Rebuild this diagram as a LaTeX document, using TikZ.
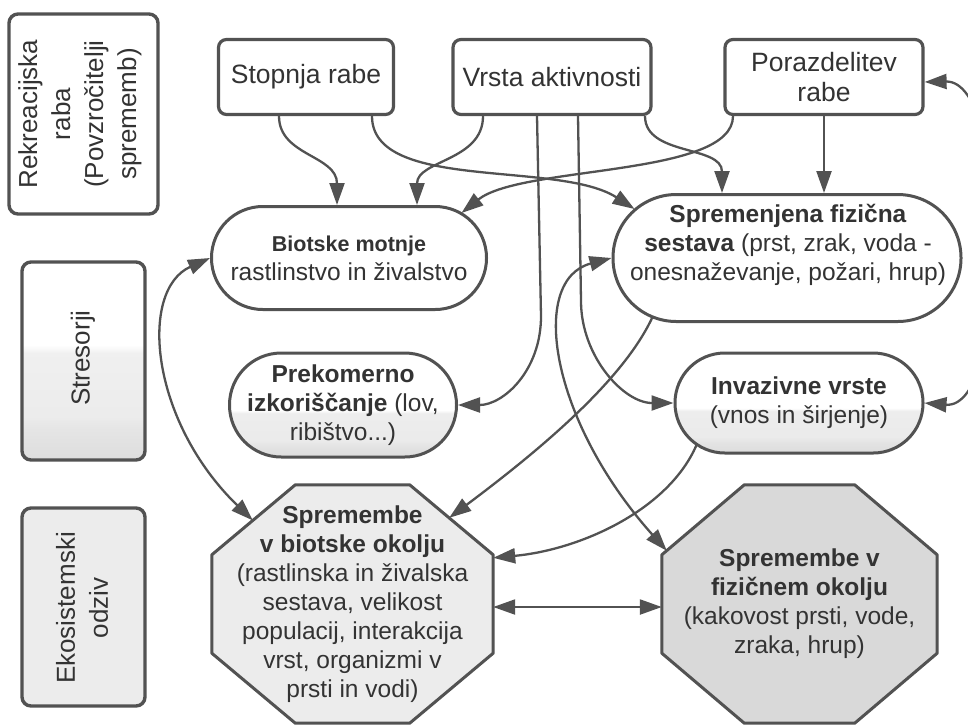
\documentclass[tikz,border=0pt]{standalone}
\usepackage{fontspec}
\setmainfont{Liberation Sans}
\usetikzlibrary{arrows.meta,calc}
\pgfdeclarelayer{bg}
\pgfsetlayers{bg,main}
\definecolor{linec}{HTML}{525252}
\definecolor{textc}{HTML}{333333}
\pgfdeclareverticalshading{halfgray}{100bp}{color(0bp)=(gray!27); color(25bp)=(gray!27); color(30bp)=(gray!22); color(33bp)=(gray!16); color(46bp)=(gray!14); color(47.5bp)=(white); color(100bp)=(white)}
\pgfdeclareverticalshading{sidegray}{100bp}{color(0bp)=(gray!27); color(25bp)=(gray!27); color(33bp)=(gray!20); color(36bp)=(gray!15); color(52bp)=(gray!12); color(54bp)=(white); color(100bp)=(white)}
\tikzset{
  base/.style={draw=linec, text=textc, align=center, font=\fontsize{24.5}{29}\selectfont, inner sep=0pt},
  topbox/.style={base, rectangle, rounded corners=8pt, line width=3.2pt, fill=white, font=\fontsize{26.5}{30}\selectfont},
  sidebox/.style={base, rectangle, rounded corners=9pt, line width=3.4pt},
  sidetxt/.style={text=textc, align=center, rotate=90, inner sep=0pt, font=\fontsize{26}{33}\selectfont},
  stad/.style={base, rectangle, line width=3pt},
  octo/.style={draw=linec, line width=3pt, line join=round},
  txt/.style={text=textc, align=center, font=\fontsize{24.5}{29}\selectfont, inner sep=0pt},
  conn/.style={draw=linec, line width=2.3pt, -{Triangle[length=22pt,width=15pt]}},
  dconn/.style={draw=linec, line width=2.3pt, {Triangle[length=22pt,width=15pt]}-{Triangle[length=22pt,width=15pt]}},
}
\begin{document}
\begin{tikzpicture}[x=1pt,y=-1pt]
\useasboundingbox (0,0) rectangle (968,724);
% side labels
\node[sidebox, fill=white, minimum width=149pt, minimum height=200pt] (lb1) at (83.5,114) {};
\node[sidetxt] (lb1t) at (80,114) {Rekreacijska\\raba\\(Povzročitelji\\sprememb)};
\node[sidebox, shade, shading=sidegray, minimum width=123pt, minimum height=198pt] (lb2) at (83.5,361) {};
\node[sidetxt] (lb2t) at (83,358) {Stresorji};
\node[sidebox, fill=gray!15, minimum width=123pt, minimum height=198pt] (lb3) at (83.5,607) {};
\node[sidetxt] (lb3t) at (82,608) {Ekosistemski\\odziv};
% top boxes
\node[topbox, minimum width=175pt, minimum height=75pt] (stop) at (306,77) {Stopnja rabe};
\node[topbox, minimum width=198pt, minimum height=75pt] (vrsta) at (552,77) {Vrsta aktivnosti};
\node[topbox, minimum width=198pt, minimum height=75pt] (poraz) at (824,77) {Porazdelitev\\rabe};
% stressors
\node[stad, fill=white, rounded corners=51.3pt, minimum width=275pt, minimum height=103pt] (bm) at (349,258) {{\fontsize{21.5}{26}\selectfont\bfseries Biotske motnje}\\rastlinstvo in živalstvo};
\node[stad, fill=white, rounded corners=63.3pt, minimum width=348pt, minimum height=127pt] (sfs) at (787,258) {};
\node[txt] (sfst) at (788,245) {\textbf{Spremenjena fizična}\\\textbf{sestava} (prst, zrak, voda -\\onesnaževanje, požari, hrup)};
\node[stad, shade, shading=halfgray, rounded corners=51.8pt, minimum width=227pt, minimum height=104pt] (pk) at (343,405) {\textbf{Prekomerno}\\\textbf{izkoriščanje} (lov,\\ribištvo...)};
\node[stad, shade, shading=halfgray, rounded corners=49.8pt, minimum width=248pt, minimum height=100pt] (iv) at (799,403) {\textbf{Invazivne vrste}\\(vnos in širjenje)};
% responses
\node[txt, minimum width=281pt, minimum height=238pt] (bo) at (352.5,604) {\textbf{Spremembe}\\\textbf{v biotske okolju}\\(rastlinska in živalska\\sestava, velikost\\populacij, interakcija\\vrst, organizmi v\\prsti in vodi)};
\node[txt, minimum width=275pt, minimum height=238pt] (po) at (799.5,604) {\textbf{Spremembe v}\\\textbf{fizičnem okolju}\\(kakovost prsti, vode,\\zraka, hrup)};
\begin{pgfonlayer}{bg}
\draw[octo, fill=gray!15] ($(bo.north west)+(83.5,0)$) -- ($(bo.north east)+(-83.5,0)$) -- ($(bo.north east)+(0,70)$) -- ($(bo.south east)+(0,-70)$) -- ($(bo.south east)+(-83.5,0)$) -- ($(bo.south west)+(83.5,0)$) -- ($(bo.south west)+(0,-70)$) -- ($(bo.north west)+(0,70)$) -- cycle;
\draw[octo, fill=gray!30] ($(po.north west)+(82.5,0)$) -- ($(po.north east)+(-82.5,0)$) -- ($(po.north east)+(0,70)$) -- ($(po.south east)+(0,-70)$) -- ($(po.south east)+(-82.5,0)$) -- ($(po.south west)+(82.5,0)$) -- ($(po.south west)+(0,-70)$) -- ($(po.north west)+(0,70)$) -- cycle;
\end{pgfonlayer}
\coordinate (bo-nw) at ($(bo.north west)+(41,35.6)$);
\coordinate (bo-ne) at ($(bo.north east)+(-44,33)$);
\coordinate (bo-e1) at ($(bo.north east)+(0,73)$);
\coordinate (po-nw) at ($(po.north west)+(5,66)$);
% connectors
\draw[conn] ($(stop.south)+(-27,0)$) .. controls +(0,40) and +(0,-50) .. ($(bm.north)+(-12,0)$);
\draw[conn] ($(stop.south)+(66,0)$) .. controls +(0,76) and +(-76,-49) .. ($(sfs.west)+(23,-49)$);
\draw[conn] ($(vrsta.south)+(-69,0)$) .. controls +(0,45) and +(0,-45) .. ($(bm.north)+(68,0)$);
\draw[conn] ($(vrsta.south)+(93,0)$) .. controls +(0,40) and +(0,-48) .. ($(sfs.north)+(-65,0)$);
\draw[conn] (poraz.south) -- (poraz.south |- sfs.north);
\draw[conn] ($(poraz.south)+(-91,0)$) .. controls +(0,61) and +(60,-48) .. ($(bm.east)+(-26.5,-45)$);
\draw[conn] ($(vrsta.south)+(-15,0)$) -- ++(4,200) .. controls +(0,55) and +(45,0) .. (pk.east);
\draw[conn] ($(vrsta.south)+(26,0)$) -- ++(3,185) .. controls +(0,55) and +(-50,0) .. (iv.west);
\draw[dconn] (sfs.west) .. controls +(-83,22) and +(-117,-131) .. (po-nw);
\draw[conn] ($(sfs.west)+(41,59)$) .. controls +(-29,63) and +(91,-68) .. (bo-ne);
\draw[conn] ($(iv.west)+(23,42)$) .. controls +(-28,65) and +(87,-8) .. (bo-e1);
\draw[dconn] (bm.west) .. controls +(-71.5,32) and +(-103,-100) .. (bo-nw);
\draw[dconn] ($(poraz.east)+(0,5)$) .. controls +(87,-2) and +(87,7) .. (iv.east);
\draw[dconn] ($(bo.east)+(0,3)$) -- ($(po.west)+(0,3)$);
\end{tikzpicture}
\end{document}
